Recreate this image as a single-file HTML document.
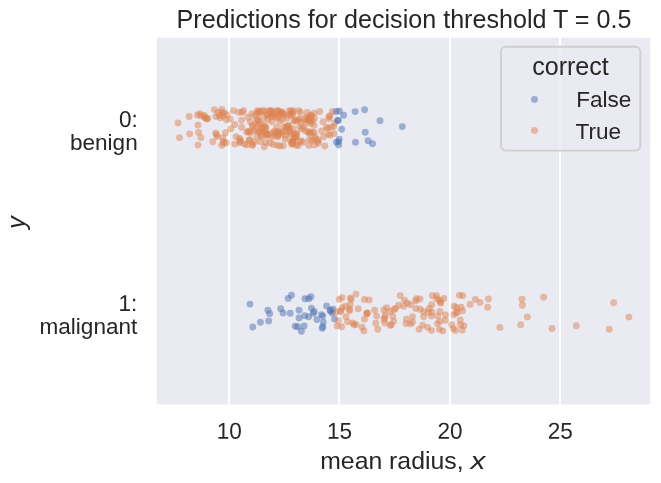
<!DOCTYPE html>
<html><head><meta charset="utf-8"><style>
html,body{margin:0;padding:0;background:#fff;}
svg{display:block;will-change:transform;}
text{font-family:"Liberation Sans",sans-serif;fill:#262626;}
</style></head><body>
<svg width="661" height="483" viewBox="0 0 661 483">
<rect x="0" y="0" width="661" height="483" fill="#ffffff"/>
<rect x="156.7" y="37.7" width="493.50000000000006" height="366.65000000000003" fill="#eaeaf2"/>
<g stroke="#ffffff" stroke-width="2">
<line x1="229" y1="37.7" x2="229" y2="404.35"/><line x1="339" y1="37.7" x2="339" y2="404.35"/><line x1="450" y1="37.7" x2="450" y2="404.35"/><line x1="560" y1="37.7" x2="560" y2="404.35"/>
</g>
<g fill="#dd8452" fill-opacity="0.5">
<circle cx="298.3" cy="145.4" r="3.45"/>
<circle cx="298.6" cy="119.8" r="3.45"/>
<circle cx="298.8" cy="110.6" r="3.45"/>
<circle cx="299.7" cy="126.6" r="3.45"/>
<circle cx="299.7" cy="141.8" r="3.45"/>
<circle cx="299.9" cy="118.8" r="3.45"/>
<circle cx="300.5" cy="112.5" r="3.45"/>
<circle cx="301.2" cy="140.8" r="3.45"/>
<circle cx="301.2" cy="122.3" r="3.45"/>
<circle cx="301.9" cy="128.8" r="3.45"/>
<circle cx="303.4" cy="142.3" r="3.45"/>
<circle cx="303.6" cy="127.8" r="3.45"/>
<circle cx="305.2" cy="119.3" r="3.45"/>
<circle cx="305.4" cy="130.8" r="3.45"/>
<circle cx="306.1" cy="122.8" r="3.45"/>
<circle cx="306.3" cy="117.3" r="3.45"/>
<circle cx="307.2" cy="112.5" r="3.45"/>
<circle cx="307.6" cy="120.3" r="3.45"/>
<circle cx="308.3" cy="118.8" r="3.45"/>
<circle cx="308.3" cy="132.6" r="3.45"/>
<circle cx="308.9" cy="145.4" r="3.45"/>
<circle cx="309.4" cy="139.5" r="3.45"/>
<circle cx="309.4" cy="133.1" r="3.45"/>
<circle cx="309.6" cy="121.3" r="3.45"/>
<circle cx="309.8" cy="117.8" r="3.45"/>
<circle cx="309.8" cy="131.8" r="3.45"/>
<circle cx="310.5" cy="119.8" r="3.45"/>
<circle cx="310.7" cy="115.3" r="3.45"/>
<circle cx="310.9" cy="123.3" r="3.45"/>
<circle cx="311.6" cy="115.8" r="3.45"/>
<circle cx="311.8" cy="140.2" r="3.45"/>
<circle cx="312.2" cy="132.8" r="3.45"/>
<circle cx="312.5" cy="120.8" r="3.45"/>
<circle cx="314.0" cy="113.1" r="3.45"/>
<circle cx="314.0" cy="125.5" r="3.45"/>
<circle cx="314.0" cy="132.5" r="3.45"/>
<circle cx="314.4" cy="144.9" r="3.45"/>
<circle cx="314.4" cy="118.3" r="3.45"/>
<circle cx="314.7" cy="139.3" r="3.45"/>
<circle cx="315.1" cy="136.8" r="3.45"/>
<circle cx="317.8" cy="141.3" r="3.45"/>
<circle cx="318.2" cy="139.8" r="3.45"/>
<circle cx="318.4" cy="143.3" r="3.45"/>
<circle cx="319.7" cy="111.5" r="3.45"/>
<circle cx="321.7" cy="130.9" r="3.45"/>
<circle cx="323.1" cy="121.7" r="3.45"/>
<circle cx="323.7" cy="136.8" r="3.45"/>
<circle cx="324.8" cy="146.0" r="3.45"/>
<circle cx="326.6" cy="127.1" r="3.45"/>
<circle cx="327.7" cy="128.7" r="3.45"/>
<circle cx="328.4" cy="134.6" r="3.45"/>
<circle cx="329.0" cy="116.8" r="3.45"/>
<circle cx="329.0" cy="118.5" r="3.45"/>
<circle cx="330.1" cy="115.8" r="3.45"/>
<circle cx="330.3" cy="135.1" r="3.45"/>
<circle cx="330.8" cy="127.3" r="3.45"/>
<circle cx="332.6" cy="111.5" r="3.45"/>
<circle cx="333.7" cy="126.6" r="3.45"/>
<circle cx="334.1" cy="133.6" r="3.45"/>
<circle cx="335.0" cy="122.8" r="3.45"/>
<circle cx="236.1" cy="136.6" r="3.45"/>
<circle cx="238.7" cy="112.2" r="3.45"/>
<circle cx="239.6" cy="138.4" r="3.45"/>
<circle cx="239.8" cy="142.7" r="3.45"/>
<circle cx="240.3" cy="140.0" r="3.45"/>
<circle cx="240.3" cy="141.5" r="3.45"/>
<circle cx="241.6" cy="120.3" r="3.45"/>
<circle cx="241.6" cy="127.2" r="3.45"/>
<circle cx="242.2" cy="112.4" r="3.45"/>
<circle cx="243.6" cy="110.6" r="3.45"/>
<circle cx="244.7" cy="144.1" r="3.45"/>
<circle cx="246.7" cy="144.8" r="3.45"/>
<circle cx="246.7" cy="132.1" r="3.45"/>
<circle cx="248.0" cy="117.2" r="3.45"/>
<circle cx="248.4" cy="131.2" r="3.45"/>
<circle cx="248.9" cy="131.7" r="3.45"/>
<circle cx="249.1" cy="140.2" r="3.45"/>
<circle cx="249.8" cy="139.6" r="3.45"/>
<circle cx="250.2" cy="121.8" r="3.45"/>
<circle cx="250.4" cy="132.8" r="3.45"/>
<circle cx="252.0" cy="113.6" r="3.45"/>
<circle cx="252.4" cy="145.4" r="3.45"/>
<circle cx="252.4" cy="144.3" r="3.45"/>
<circle cx="252.4" cy="125.8" r="3.45"/>
<circle cx="252.8" cy="126.6" r="3.45"/>
<circle cx="254.0" cy="130.8" r="3.45"/>
<circle cx="254.2" cy="142.3" r="3.45"/>
<circle cx="254.6" cy="115.8" r="3.45"/>
<circle cx="255.9" cy="123.8" r="3.45"/>
<circle cx="178.0" cy="122.9" r="3.45"/>
<circle cx="179.5" cy="137.6" r="3.45"/>
<circle cx="189.2" cy="116.4" r="3.45"/>
<circle cx="189.7" cy="133.9" r="3.45"/>
<circle cx="197.4" cy="115.1" r="3.45"/>
<circle cx="198.0" cy="125.1" r="3.45"/>
<circle cx="198.0" cy="145.1" r="3.45"/>
<circle cx="198.5" cy="132.4" r="3.45"/>
<circle cx="199.7" cy="113.6" r="3.45"/>
<circle cx="200.9" cy="137.6" r="3.45"/>
<circle cx="201.0" cy="115.8" r="3.45"/>
<circle cx="204.4" cy="115.4" r="3.45"/>
<circle cx="205.8" cy="118.2" r="3.45"/>
<circle cx="206.9" cy="119.1" r="3.45"/>
<circle cx="207.8" cy="118.5" r="3.45"/>
<circle cx="212.8" cy="141.8" r="3.45"/>
<circle cx="214.3" cy="109.6" r="3.45"/>
<circle cx="215.7" cy="133.0" r="3.45"/>
<circle cx="215.9" cy="116.6" r="3.45"/>
<circle cx="216.5" cy="134.8" r="3.45"/>
<circle cx="217.2" cy="136.6" r="3.45"/>
<circle cx="218.0" cy="112.4" r="3.45"/>
<circle cx="219.4" cy="115.4" r="3.45"/>
<circle cx="220.3" cy="117.8" r="3.45"/>
<circle cx="221.7" cy="109.4" r="3.45"/>
<circle cx="221.8" cy="145.3" r="3.45"/>
<circle cx="222.0" cy="112.4" r="3.45"/>
<circle cx="222.8" cy="137.8" r="3.45"/>
<circle cx="223.1" cy="116.0" r="3.45"/>
<circle cx="223.3" cy="141.5" r="3.45"/>
<circle cx="223.6" cy="143.3" r="3.45"/>
<circle cx="224.3" cy="113.0" r="3.45"/>
<circle cx="225.6" cy="132.7" r="3.45"/>
<circle cx="226.3" cy="142.7" r="3.45"/>
<circle cx="226.3" cy="119.7" r="3.45"/>
<circle cx="226.9" cy="114.8" r="3.45"/>
<circle cx="230.1" cy="119.1" r="3.45"/>
<circle cx="230.8" cy="128.7" r="3.45"/>
<circle cx="233.4" cy="110.6" r="3.45"/>
<circle cx="234.7" cy="124.5" r="3.45"/>
<circle cx="234.7" cy="144.1" r="3.45"/>
<circle cx="256.8" cy="130.1" r="3.45"/>
<circle cx="256.8" cy="136.9" r="3.45"/>
<circle cx="258.1" cy="121.0" r="3.45"/>
<circle cx="259.2" cy="111.2" r="3.45"/>
<circle cx="260.1" cy="141.4" r="3.45"/>
<circle cx="260.1" cy="132.3" r="3.45"/>
<circle cx="261.2" cy="124.0" r="3.45"/>
<circle cx="262.1" cy="136.1" r="3.45"/>
<circle cx="262.3" cy="128.6" r="3.45"/>
<circle cx="263.0" cy="110.4" r="3.45"/>
<circle cx="263.7" cy="118.0" r="3.45"/>
<circle cx="264.3" cy="125.5" r="3.45"/>
<circle cx="264.3" cy="146.7" r="3.45"/>
<circle cx="265.7" cy="142.2" r="3.45"/>
<circle cx="266.3" cy="133.1" r="3.45"/>
<circle cx="267.4" cy="114.9" r="3.45"/>
<circle cx="267.9" cy="119.5" r="3.45"/>
<circle cx="268.7" cy="110.7" r="3.45"/>
<circle cx="269.8" cy="142.9" r="3.45"/>
<circle cx="270.3" cy="133.9" r="3.45"/>
<circle cx="271.8" cy="137.6" r="3.45"/>
<circle cx="271.8" cy="121.7" r="3.45"/>
<circle cx="272.9" cy="111.9" r="3.45"/>
<circle cx="273.2" cy="144.4" r="3.45"/>
<circle cx="274.5" cy="131.6" r="3.45"/>
<circle cx="274.7" cy="114.9" r="3.45"/>
<circle cx="276.7" cy="127.0" r="3.45"/>
<circle cx="277.1" cy="118.0" r="3.45"/>
<circle cx="277.1" cy="145.2" r="3.45"/>
<circle cx="277.8" cy="136.9" r="3.45"/>
<circle cx="277.8" cy="110.7" r="3.45"/>
<circle cx="279.1" cy="112.7" r="3.45"/>
<circle cx="279.1" cy="133.1" r="3.45"/>
<circle cx="279.8" cy="121.0" r="3.45"/>
<circle cx="280.0" cy="146.0" r="3.45"/>
<circle cx="282.4" cy="119.5" r="3.45"/>
<circle cx="283.5" cy="127.0" r="3.45"/>
<circle cx="284.0" cy="114.9" r="3.45"/>
<circle cx="285.1" cy="139.1" r="3.45"/>
<circle cx="285.1" cy="130.8" r="3.45"/>
<circle cx="285.5" cy="135.4" r="3.45"/>
<circle cx="286.8" cy="118.0" r="3.45"/>
<circle cx="288.6" cy="125.5" r="3.45"/>
<circle cx="289.1" cy="110.7" r="3.45"/>
<circle cx="289.7" cy="115.7" r="3.45"/>
<circle cx="289.9" cy="133.9" r="3.45"/>
<circle cx="290.8" cy="140.7" r="3.45"/>
<circle cx="291.5" cy="143.7" r="3.45"/>
<circle cx="292.4" cy="111.9" r="3.45"/>
<circle cx="292.4" cy="142.2" r="3.45"/>
<circle cx="293.0" cy="128.6" r="3.45"/>
<circle cx="294.4" cy="138.4" r="3.45"/>
<circle cx="295.2" cy="121.0" r="3.45"/>
<circle cx="295.9" cy="120.2" r="3.45"/>
<circle cx="296.3" cy="145.2" r="3.45"/>
<circle cx="297.0" cy="133.1" r="3.45"/>
<circle cx="204.2" cy="116.9" r="3.45"/>
<circle cx="257.0" cy="118.4" r="3.45"/>
<circle cx="257.3" cy="110.7" r="3.45"/>
<circle cx="257.7" cy="112.1" r="3.45"/>
<circle cx="257.9" cy="119.9" r="3.45"/>
<circle cx="258.4" cy="131.8" r="3.45"/>
<circle cx="258.6" cy="124.5" r="3.45"/>
<circle cx="259.0" cy="112.9" r="3.45"/>
<circle cx="260.6" cy="112.1" r="3.45"/>
<circle cx="261.0" cy="135.5" r="3.45"/>
<circle cx="261.5" cy="130.7" r="3.45"/>
<circle cx="261.9" cy="127.9" r="3.45"/>
<circle cx="264.8" cy="111.4" r="3.45"/>
<circle cx="265.0" cy="130.2" r="3.45"/>
<circle cx="265.2" cy="127.0" r="3.45"/>
<circle cx="266.1" cy="128.1" r="3.45"/>
<circle cx="266.8" cy="134.4" r="3.45"/>
<circle cx="266.8" cy="114.4" r="3.45"/>
<circle cx="266.8" cy="135.4" r="3.45"/>
<circle cx="267.6" cy="134.6" r="3.45"/>
<circle cx="270.7" cy="110.8" r="3.45"/>
<circle cx="270.7" cy="116.8" r="3.45"/>
<circle cx="271.6" cy="113.9" r="3.45"/>
<circle cx="271.6" cy="110.9" r="3.45"/>
<circle cx="272.1" cy="113.9" r="3.45"/>
<circle cx="273.8" cy="131.7" r="3.45"/>
<circle cx="274.0" cy="116.8" r="3.45"/>
<circle cx="274.3" cy="135.0" r="3.45"/>
<circle cx="277.1" cy="132.1" r="3.45"/>
<circle cx="277.4" cy="110.7" r="3.45"/>
<circle cx="277.6" cy="135.6" r="3.45"/>
<circle cx="278.0" cy="116.0" r="3.45"/>
<circle cx="278.2" cy="135.1" r="3.45"/>
<circle cx="278.7" cy="131.5" r="3.45"/>
<circle cx="280.2" cy="113.5" r="3.45"/>
<circle cx="280.7" cy="132.7" r="3.45"/>
<circle cx="281.1" cy="112.4" r="3.45"/>
<circle cx="281.8" cy="111.6" r="3.45"/>
<circle cx="282.7" cy="113.5" r="3.45"/>
<circle cx="283.1" cy="133.4" r="3.45"/>
<circle cx="283.3" cy="145.7" r="3.45"/>
<circle cx="283.3" cy="114.2" r="3.45"/>
<circle cx="286.0" cy="126.9" r="3.45"/>
<circle cx="287.1" cy="127.4" r="3.45"/>
<circle cx="287.5" cy="128.3" r="3.45"/>
<circle cx="288.0" cy="125.8" r="3.45"/>
<circle cx="289.1" cy="128.0" r="3.45"/>
<circle cx="290.2" cy="131.2" r="3.45"/>
<circle cx="290.2" cy="113.8" r="3.45"/>
<circle cx="290.4" cy="132.6" r="3.45"/>
<circle cx="291.0" cy="110.9" r="3.45"/>
<circle cx="291.9" cy="114.2" r="3.45"/>
<circle cx="292.6" cy="141.7" r="3.45"/>
<circle cx="292.6" cy="144.2" r="3.45"/>
<circle cx="292.8" cy="114.4" r="3.45"/>
<circle cx="292.8" cy="142.3" r="3.45"/>
<circle cx="293.3" cy="110.6" r="3.45"/>
<circle cx="293.9" cy="120.8" r="3.45"/>
<circle cx="294.1" cy="138.2" r="3.45"/>
<circle cx="295.0" cy="134.5" r="3.45"/>
<circle cx="295.2" cy="136.9" r="3.45"/>
<circle cx="295.5" cy="136.6" r="3.45"/>
<circle cx="296.3" cy="134.3" r="3.45"/>
<circle cx="296.3" cy="136.8" r="3.45"/>
</g>
<g fill="#4c72b0" fill-opacity="0.5">
<circle cx="336.3" cy="111.5" r="3.45"/>
<circle cx="336.5" cy="142.2" r="3.45"/>
<circle cx="337.6" cy="120.6" r="3.45"/>
<circle cx="338.3" cy="120.3" r="3.45"/>
<circle cx="338.5" cy="141.6" r="3.45"/>
<circle cx="338.7" cy="144.9" r="3.45"/>
<circle cx="339.2" cy="139.1" r="3.45"/>
<circle cx="339.4" cy="111.0" r="3.45"/>
<circle cx="341.6" cy="129.2" r="3.45"/>
<circle cx="343.6" cy="115.2" r="3.45"/>
<circle cx="355.1" cy="111.6" r="3.45"/>
<circle cx="355.5" cy="142.3" r="3.45"/>
<circle cx="364.6" cy="109.8" r="3.45"/>
<circle cx="365.2" cy="132.2" r="3.45"/>
<circle cx="368.1" cy="140.8" r="3.45"/>
<circle cx="372.5" cy="143.7" r="3.45"/>
<circle cx="380.0" cy="120.7" r="3.45"/>
<circle cx="402.3" cy="126.6" r="3.45"/>
</g>
<g fill="#4c72b0" fill-opacity="0.5">
<circle cx="250.0" cy="304.1" r="3.45"/>
<circle cx="252.8" cy="327.0" r="3.45"/>
<circle cx="260.4" cy="322.3" r="3.45"/>
<circle cx="267.9" cy="310.3" r="3.45"/>
<circle cx="268.7" cy="320.9" r="3.45"/>
<circle cx="269.6" cy="313.8" r="3.45"/>
<circle cx="280.7" cy="308.8" r="3.45"/>
<circle cx="283.1" cy="313.0" r="3.45"/>
<circle cx="288.2" cy="298.4" r="3.45"/>
<circle cx="290.2" cy="313.2" r="3.45"/>
<circle cx="291.5" cy="295.3" r="3.45"/>
<circle cx="295.2" cy="326.2" r="3.45"/>
<circle cx="297.7" cy="326.7" r="3.45"/>
<circle cx="299.0" cy="318.0" r="3.45"/>
<circle cx="299.0" cy="310.3" r="3.45"/>
<circle cx="301.4" cy="331.2" r="3.45"/>
<circle cx="304.1" cy="325.9" r="3.45"/>
<circle cx="304.7" cy="315.8" r="3.45"/>
<circle cx="305.0" cy="298.8" r="3.45"/>
<circle cx="308.7" cy="316.8" r="3.45"/>
<circle cx="308.7" cy="298.7" r="3.45"/>
<circle cx="310.9" cy="296.7" r="3.45"/>
<circle cx="311.4" cy="308.1" r="3.45"/>
<circle cx="313.3" cy="313.3" r="3.45"/>
<circle cx="314.2" cy="311.5" r="3.45"/>
<circle cx="316.9" cy="319.5" r="3.45"/>
<circle cx="321.5" cy="314.6" r="3.45"/>
<circle cx="322.2" cy="328.2" r="3.45"/>
<circle cx="322.8" cy="316.1" r="3.45"/>
<circle cx="322.8" cy="326.7" r="3.45"/>
<circle cx="323.3" cy="322.1" r="3.45"/>
<circle cx="326.6" cy="305.9" r="3.45"/>
<circle cx="330.1" cy="310.0" r="3.45"/>
<circle cx="332.3" cy="313.0" r="3.45"/>
<circle cx="333.0" cy="309.3" r="3.45"/>
<circle cx="334.5" cy="319.1" r="3.45"/>
<circle cx="330.6" cy="311.3" r="3.45"/>
</g>
<g fill="#dd8452" fill-opacity="0.5">
<circle cx="336.3" cy="312.3" r="3.45"/>
<circle cx="337.2" cy="325.9" r="3.45"/>
<circle cx="338.3" cy="320.6" r="3.45"/>
<circle cx="339.2" cy="299.4" r="3.45"/>
<circle cx="340.5" cy="311.5" r="3.45"/>
<circle cx="341.6" cy="326.7" r="3.45"/>
<circle cx="342.0" cy="297.6" r="3.45"/>
<circle cx="342.3" cy="307.7" r="3.45"/>
<circle cx="345.6" cy="306.2" r="3.45"/>
<circle cx="346.0" cy="316.8" r="3.45"/>
<circle cx="347.6" cy="321.8" r="3.45"/>
<circle cx="349.6" cy="310.8" r="3.45"/>
<circle cx="349.6" cy="309.3" r="3.45"/>
<circle cx="350.2" cy="304.7" r="3.45"/>
<circle cx="350.4" cy="297.9" r="3.45"/>
<circle cx="351.1" cy="299.4" r="3.45"/>
<circle cx="352.9" cy="322.9" r="3.45"/>
<circle cx="354.0" cy="324.8" r="3.45"/>
<circle cx="356.0" cy="294.1" r="3.45"/>
<circle cx="356.0" cy="324.4" r="3.45"/>
<circle cx="358.2" cy="308.7" r="3.45"/>
<circle cx="362.1" cy="327.1" r="3.45"/>
<circle cx="363.9" cy="330.9" r="3.45"/>
<circle cx="364.4" cy="319.1" r="3.45"/>
<circle cx="364.4" cy="299.4" r="3.45"/>
<circle cx="367.0" cy="313.3" r="3.45"/>
<circle cx="367.4" cy="312.9" r="3.45"/>
<circle cx="369.2" cy="299.9" r="3.45"/>
<circle cx="374.7" cy="310.3" r="3.45"/>
<circle cx="375.8" cy="323.3" r="3.45"/>
<circle cx="376.7" cy="316.1" r="3.45"/>
<circle cx="377.8" cy="329.2" r="3.45"/>
<circle cx="383.8" cy="310.0" r="3.45"/>
<circle cx="384.0" cy="319.4" r="3.45"/>
<circle cx="384.7" cy="317.6" r="3.45"/>
<circle cx="384.9" cy="322.9" r="3.45"/>
<circle cx="386.7" cy="307.7" r="3.45"/>
<circle cx="390.0" cy="311.5" r="3.45"/>
<circle cx="391.3" cy="324.8" r="3.45"/>
<circle cx="392.8" cy="316.1" r="3.45"/>
<circle cx="393.7" cy="321.1" r="3.45"/>
<circle cx="393.9" cy="309.7" r="3.45"/>
<circle cx="395.5" cy="308.5" r="3.45"/>
<circle cx="398.6" cy="305.2" r="3.45"/>
<circle cx="400.1" cy="295.6" r="3.45"/>
<circle cx="403.7" cy="306.2" r="3.45"/>
<circle cx="404.5" cy="300.2" r="3.45"/>
<circle cx="405.9" cy="323.6" r="3.45"/>
<circle cx="406.3" cy="319.1" r="3.45"/>
<circle cx="407.4" cy="303.2" r="3.45"/>
<circle cx="410.5" cy="323.9" r="3.45"/>
<circle cx="410.5" cy="304.7" r="3.45"/>
<circle cx="412.5" cy="322.1" r="3.45"/>
<circle cx="412.5" cy="316.8" r="3.45"/>
<circle cx="415.6" cy="300.9" r="3.45"/>
<circle cx="415.8" cy="308.5" r="3.45"/>
<circle cx="416.5" cy="298.7" r="3.45"/>
<circle cx="419.1" cy="329.2" r="3.45"/>
<circle cx="420.0" cy="299.0" r="3.45"/>
<circle cx="420.2" cy="309.3" r="3.45"/>
<circle cx="422.6" cy="325.1" r="3.45"/>
<circle cx="423.5" cy="316.8" r="3.45"/>
<circle cx="423.7" cy="311.5" r="3.45"/>
<circle cx="427.7" cy="327.4" r="3.45"/>
<circle cx="428.2" cy="312.3" r="3.45"/>
<circle cx="429.3" cy="308.5" r="3.45"/>
<circle cx="431.3" cy="316.1" r="3.45"/>
<circle cx="431.5" cy="330.6" r="3.45"/>
<circle cx="431.7" cy="304.7" r="3.45"/>
<circle cx="431.9" cy="312.3" r="3.45"/>
<circle cx="432.4" cy="295.6" r="3.45"/>
<circle cx="436.6" cy="295.6" r="3.45"/>
<circle cx="437.4" cy="323.6" r="3.45"/>
<circle cx="437.7" cy="316.1" r="3.45"/>
<circle cx="439.4" cy="300.2" r="3.45"/>
<circle cx="439.4" cy="329.4" r="3.45"/>
<circle cx="439.9" cy="311.5" r="3.45"/>
<circle cx="439.9" cy="321.4" r="3.45"/>
<circle cx="440.7" cy="303.2" r="3.45"/>
<circle cx="440.7" cy="301.7" r="3.45"/>
<circle cx="442.7" cy="330.9" r="3.45"/>
<circle cx="443.8" cy="298.4" r="3.45"/>
<circle cx="445.2" cy="320.2" r="3.45"/>
<circle cx="445.4" cy="315.0" r="3.45"/>
<circle cx="451.8" cy="324.8" r="3.45"/>
<circle cx="453.3" cy="328.6" r="3.45"/>
<circle cx="453.8" cy="314.6" r="3.45"/>
<circle cx="454.2" cy="306.2" r="3.45"/>
<circle cx="455.5" cy="330.4" r="3.45"/>
<circle cx="456.2" cy="313.0" r="3.45"/>
<circle cx="456.6" cy="307.7" r="3.45"/>
<circle cx="457.3" cy="312.3" r="3.45"/>
<circle cx="459.5" cy="295.2" r="3.45"/>
<circle cx="460.2" cy="319.9" r="3.45"/>
<circle cx="460.4" cy="324.8" r="3.45"/>
<circle cx="461.1" cy="307.3" r="3.45"/>
<circle cx="462.4" cy="330.1" r="3.45"/>
<circle cx="462.6" cy="310.8" r="3.45"/>
<circle cx="462.8" cy="295.6" r="3.45"/>
<circle cx="463.9" cy="325.6" r="3.45"/>
<circle cx="470.1" cy="304.4" r="3.45"/>
<circle cx="475.4" cy="299.4" r="3.45"/>
<circle cx="480.0" cy="302.5" r="3.45"/>
<circle cx="487.6" cy="307.3" r="3.45"/>
<circle cx="488.4" cy="299.0" r="3.45"/>
<circle cx="499.9" cy="327.4" r="3.45"/>
<circle cx="520.7" cy="324.8" r="3.45"/>
<circle cx="522.0" cy="299.2" r="3.45"/>
<circle cx="522.4" cy="305.2" r="3.45"/>
<circle cx="527.3" cy="316.9" r="3.45"/>
<circle cx="543.6" cy="297.2" r="3.45"/>
<circle cx="552.0" cy="328.5" r="3.45"/>
<circle cx="576.3" cy="325.8" r="3.45"/>
<circle cx="609.2" cy="329.2" r="3.45"/>
<circle cx="613.6" cy="302.8" r="3.45"/>
<circle cx="628.9" cy="317.1" r="3.45"/>
<circle cx="340.7" cy="310.7" r="3.45"/>
<circle cx="366.8" cy="313.7" r="3.45"/>
<circle cx="385.3" cy="315.3" r="3.45"/>
<circle cx="390.2" cy="325.2" r="3.45"/>
<circle cx="436.6" cy="298.8" r="3.45"/>
</g>
<text x="404" y="28" font-size="25.12" text-anchor="middle">Predictions for decision threshold T = 0.5</text>
<g font-size="22.55" text-anchor="middle">
<text transform="translate(229.3,438.7) rotate(0.05) scale(1,1.02)">10</text>
<text transform="translate(339.6,438.7) rotate(0.05) scale(1,1.02)">15</text>
<text transform="translate(450,438.7) rotate(0.05) scale(1,1.02)">20</text>
<text transform="translate(560.3,438.7) rotate(0.05) scale(1,1.02)">25</text>
</g>
<text x="320.2" y="469" font-size="24.8">mean radius,</text>
<text transform="translate(470.4,469) scale(1.2,1)" font-size="24.8" font-style="italic">x</text>
<g font-size="22.55" text-anchor="end">
<text transform="translate(137.7,127.0) rotate(0.05) scale(1,1.02)">0:</text>
<text x="137.7" y="149.8">benign</text>
<text transform="translate(137.4,310.9) rotate(0.05) scale(1,1.02)">1:</text>
<text x="137.3" y="334.1">malignant</text>
</g>
<text transform="translate(24.9,222.5) rotate(-90)" font-size="25" font-style="italic" text-anchor="middle">y</text>
<rect x="501" y="46.8" width="139.3" height="103.8" rx="5" ry="5" fill="#eaeaf2" fill-opacity="0.8" stroke="#cccccc" stroke-opacity="0.9" stroke-width="1.9"/>
<text x="570.5" y="75.0" font-size="25" text-anchor="middle">correct</text>
<circle cx="534.5" cy="99.4" r="3.45" fill="#4c72b0" fill-opacity="0.5"/>
<circle cx="534.5" cy="130.4" r="3.45" fill="#dd8452" fill-opacity="0.5"/>
<text x="576.2" y="106.6" font-size="22.55">False</text>
<text x="575.6" y="138.5" font-size="22.55">True</text>
</svg>
</body></html>
